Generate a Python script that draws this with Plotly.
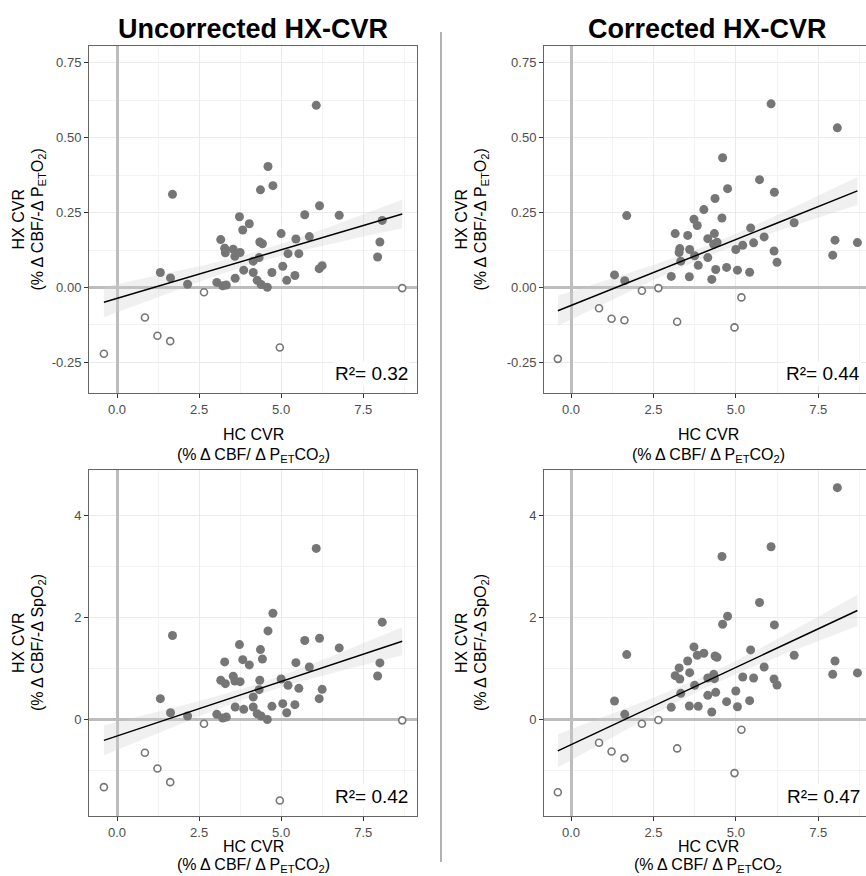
import numpy as np
import plotly.graph_objects as go

W, H = 866, 876

# ---------------- data ----------------
hc_cvr = [-0.40, 0.85, 1.23, 1.32, 1.62, 1.63, 1.69, 2.15, 2.65, 3.04,
          3.16, 3.22, 3.28, 3.30, 3.33, 3.54, 3.59, 3.60, 3.73, 3.75,
          3.83, 3.86, 4.03, 4.15, 4.15, 4.27, 4.33, 4.35, 4.37, 4.39,
          4.43, 4.58, 4.60, 4.72, 4.75, 4.96, 5.00, 5.05, 5.17, 5.21,
          5.42, 5.45, 5.54, 5.72, 5.86, 6.07, 6.16, 6.17, 6.25, 6.77,
          7.94, 8.01, 8.08, 8.69]

hx_peto2_uncorr = [-0.221, -0.100, -0.161, 0.050, -0.179, 0.032, 0.311, 0.011, -0.016, 0.017,
                   0.160, 0.006, 0.131, 0.116, 0.008, 0.128, 0.104, 0.031, 0.236, 0.117,
                   0.192, 0.058, 0.213, 0.088, 0.050, 0.024, 0.100, 0.152, 0.326, 0.010,
                   0.146, 0.001, 0.404, 0.050, 0.340, -0.200, 0.180, 0.071, 0.024, 0.113,
                   0.040, 0.162, 0.113, 0.243, 0.170, 0.608, 0.063, 0.273, 0.073, 0.241,
                   0.102, 0.152, 0.224, -0.002]

hx_peto2_corr = [-0.238, -0.069, -0.104, 0.042, -0.109, 0.023, 0.240, -0.011, -0.002, 0.037,
                 0.180, -0.114, 0.117, 0.130, 0.088, 0.174, 0.036, 0.127, 0.228, 0.106,
                 0.207, 0.074, 0.260, 0.100, 0.163, 0.027, 0.144, 0.180, 0.297, 0.060,
                 0.151, 0.232, 0.433, 0.067, 0.330, -0.133, 0.127, 0.058, -0.033, 0.141,
                 0.051, 0.199, 0.149, 0.360, 0.169, 0.613, 0.122, 0.318, 0.084, 0.216,
                 0.108, 0.158, 0.533, 0.150]

hx_spo2_uncorr = [-1.322, -0.648, -0.956, 0.412, -1.224, 0.137, 1.650, 0.072, -0.079, 0.105,
                  0.773, 0.033, 1.133, 0.707, 0.052, 0.851, 0.759, 0.249, 1.473, 0.746,
                  1.178, 0.203, 1.074, 0.445, 0.249, 0.118, 0.589, 0.773, 1.375, 0.072,
                  1.191, 0.005, 1.741, 0.262, 2.088, -1.584, 0.799, 0.314, 0.137, 0.674,
                  0.295, 1.119, 0.615, 1.552, 1.034, 3.358, 0.412, 1.597, 0.596, 1.408,
                  0.858, 1.113, 1.912, -0.013]

hx_spo2_corr = [-1.421, -0.452, -0.622, 0.367, -0.753, 0.105, 1.277, -0.079, -0.005, 0.242,
                0.864, -0.563, 1.015, 0.799, 0.517, 1.152, 0.268, 0.923, 1.427, 0.674,
                1.264, 0.262, 1.303, 0.478, 0.818, 0.151, 0.890, 0.805, 1.250, 0.537,
                1.224, 3.201, 1.872, 0.354, 2.029, -1.047, 0.563, 0.255, -0.196, 0.838,
                0.373, 1.368, 0.818, 2.298, 1.034, 3.391, 0.799, 1.859, 0.681, 1.264,
                0.890, 1.152, 4.550, 0.917]

r2_labels = ["R²= 0.32", "R²= 0.44", "R²= 0.42", "R²= 0.47"]
col_titles = ["Uncorrected HX-CVR", "Corrected HX-CVR"]
x_tickvals = [0, 2.5, 5, 7.5]
x_ticktext = ["0.0", "2.5", "5.0", "7.5"]
top_tickvals = [-0.25, 0, 0.25, 0.5, 0.75]
top_ticktext = ["-0.25", "0.00", "0.25", "0.50", "0.75"]
bot_tickvals = [0, 2, 4]
bot_ticktext = ["0", "2", "4"]

# ---------------- layout helpers ----------------
def px(x):
    return x / W

def py(y):
    return 1 - y / H

FONT = "Liberation Sans, Arial, Helvetica, sans-serif"
FILL = "#767676"
SE_MULT = 1.0

fig = go.Figure()

panels = [
    (hx_peto2_uncorr, "", (89, 417), (46, 393), (-0.854, 9.14), (-0.352, 0.806), "top", "left"),
    (hx_peto2_corr, "2", (544, 866), (46, 393), (-0.82, 8.95), (-0.352, 0.806), "top", "right"),
    (hx_spo2_uncorr, "3", (89, 417), (470, 816), (-0.854, 9.14), (-1.888, 4.896), "bot", "left"),
    (hx_spo2_corr, "4", (544, 866), (470, 816), (-0.82, 8.95), (-1.888, 4.896), "bot", "right"),
]

x = np.array(hc_cvr)
for i, (yv, suf, xd, yd, xr, yr, row, side) in enumerate(panels):
    y = np.array(yv)
    xa = "x" + suf
    ya = "y" + suf
    b1, b0 = np.polyfit(x, y, 1)
    xs = np.linspace(x.min(), x.max(), 80)
    yhat = b0 + b1 * xs
    resid = y - (b0 + b1 * x)
    n = len(x)
    s = np.sqrt(np.sum(resid ** 2) / (n - 2))
    sxx = np.sum((x - x.mean()) ** 2)
    se = s * np.sqrt(1 / n + (xs - x.mean()) ** 2 / sxx)
    fig.add_trace(go.Scatter(x=xs, y=yhat + SE_MULT * se, mode="lines", line=dict(width=0),
                             hoverinfo="skip", showlegend=False, xaxis=xa, yaxis=ya))
    fig.add_trace(go.Scatter(x=xs, y=yhat - SE_MULT * se, mode="lines", line=dict(width=0),
                             fill="tonexty", fillcolor="rgba(205,205,205,0.3)",
                             hoverinfo="skip", showlegend=False, xaxis=xa, yaxis=ya))
    neg = y < 0
    fig.add_trace(go.Scatter(x=x[~neg], y=y[~neg], mode="markers",
                             marker=dict(size=9, color=FILL, line=dict(width=0)),
                             showlegend=False, xaxis=xa, yaxis=ya))
    fig.add_trace(go.Scatter(x=x[neg], y=y[neg], mode="markers",
                             marker=dict(size=7, color="white", line=dict(width=1.6, color=FILL)),
                             showlegend=False, xaxis=xa, yaxis=ya))
    fig.add_trace(go.Scatter(x=xs, y=yhat, mode="lines", line=dict(color="black", width=1.5),
                             showlegend=False, xaxis=xa, yaxis=ya))

    axx = dict(domain=[px(xd[0]), px(xd[1])], range=list(xr), anchor=ya,
               tickmode="array", tickvals=x_tickvals, ticktext=x_ticktext,
               showgrid=True, gridcolor="#ebebeb", gridwidth=1,
               minor=dict(tickvals=[1.25, 3.75, 6.25, 8.75], showgrid=True,
                          gridcolor="#f3f3f3", gridwidth=0.6),
               zeroline=True, zerolinecolor="#bdbdbd", zerolinewidth=3,
               showline=True, linecolor="#666", linewidth=1, mirror=True,
               ticks="outside", ticklen=4, tickcolor="#333", tickwidth=1,
               automargin=False,
               tickfont=dict(size=13, color="#4d4d4d", family=FONT))
    if row == "top":
        tv, tt, mv = top_tickvals, top_ticktext, [-0.125, 0.125, 0.375, 0.625]
    else:
        tv, tt, mv = bot_tickvals, bot_ticktext, [-1, 1, 3]
    axy = dict(domain=[py(yd[1]), py(yd[0])], range=list(yr), anchor=xa,
               tickmode="array", tickvals=tv, ticktext=tt,
               showgrid=True, gridcolor="#ebebeb", gridwidth=1,
               minor=dict(tickvals=mv, showgrid=True, gridcolor="#f3f3f3", gridwidth=0.6),
               zeroline=True, zerolinecolor="#bdbdbd", zerolinewidth=3,
               showline=True, linecolor="#666", linewidth=1,
               mirror=(side == "left"),
               ticks="outside", ticklen=4, tickcolor="#333", tickwidth=1,
               automargin=False,
               tickfont=dict(size=13, color="#4d4d4d", family=FONT))
    fig.update_layout(**{"xaxis" + suf: axx, "yaxis" + suf: axy})

    # R² label
    rx = 410 if side == "left" else 862
    ry = 386 if row == "top" else 809
    fig.add_annotation(x=px(rx), y=py(ry), xref="paper", yref="paper",
                       xanchor="right", yanchor="bottom", showarrow=False,
                       text=r2_labels[i], font=dict(size=19, color="black", family=FONT),
                       bgcolor="white", borderpad=1)

    # y-axis title (two lines)
    l1 = 18 if side == "left" else 461
    l2 = 38 if side == "left" else 481
    ymid = py((yd[0] + yd[1]) / 2)
    y2txt = ("(% Δ CBF/-Δ P<sub>ET</sub>O<sub>2</sub>)" if row == "top"
             else "(% Δ CBF/-Δ SpO<sub>2</sub>)")
    for lx, t in [(l1, "HX CVR"), (l2, y2txt)]:
        fig.add_annotation(x=px(lx), y=ymid, xref="paper", yref="paper",
                           xanchor="center", yanchor="middle", showarrow=False, textangle=-90,
                           text=t, font=dict(size=16, color="black", family=FONT))
    # x-axis title (two lines)
    x2txt = ("(% Δ CBF/ Δ P<sub>ET</sub>CO<sub>2</sub>)" if i != 3
             else "(% Δ CBF/ Δ P<sub>ET</sub>CO<sub>2</sub>")
    xcx = 253 if side == "left" else 708
    r1 = 434 if row == "top" else 846
    r2 = 455 if row == "top" else 865
    for ly, t in [(r1, "HC CVR"), (r2, x2txt)]:
        fig.add_annotation(x=px(xcx), y=py(ly), xref="paper", yref="paper",
                           xanchor="center", yanchor="middle", showarrow=False,
                           text=t, font=dict(size=16, color="black", family=FONT))

# column titles
for t, cx in zip(col_titles, [253, 707]):
    fig.add_annotation(x=px(cx), y=py(29), xref="paper", yref="paper",
                       xanchor="center", yanchor="middle", showarrow=False,
                       text="<b>" + t + "</b>", font=dict(size=27, color="black", family=FONT))

# divider
fig.add_shape(type="line", xref="paper", yref="paper", x0=px(441), x1=px(441),
              y0=py(32), y1=py(862), line=dict(color="#999999", width=1.5))

fig.update_layout(width=W, height=H, margin=dict(l=0, r=0, t=0, b=0),
                  plot_bgcolor="white", paper_bgcolor="white",
                  font=dict(family=FONT), showlegend=False)

fig.write_html("out.html", config={"displayModeBar": False},
               post_script="document.body.style.margin='0';document.body.style.overflow='hidden';")
